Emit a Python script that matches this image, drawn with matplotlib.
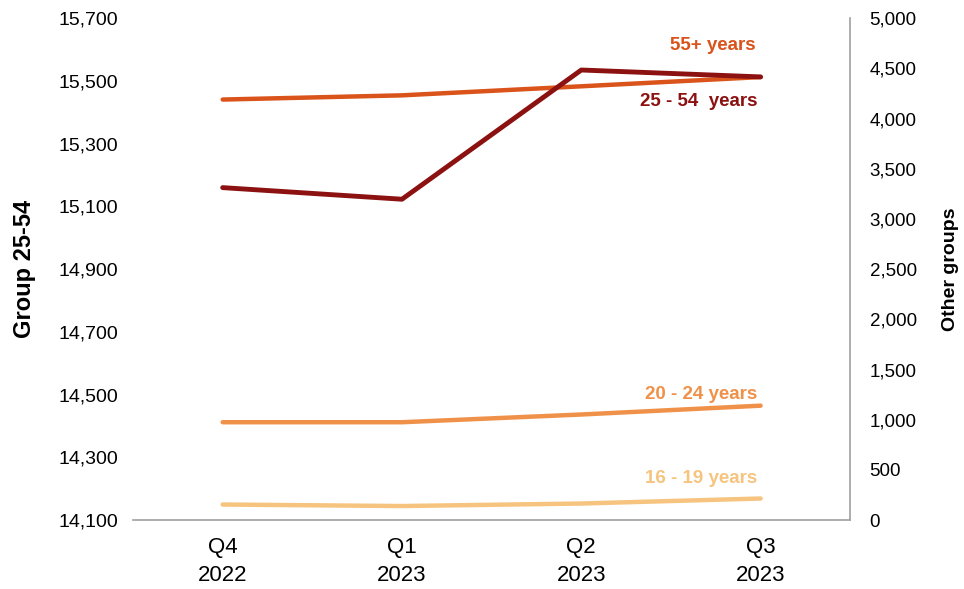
import matplotlib
# 使用非交互式后端 Agg
matplotlib.use('Agg')
import matplotlib.pyplot as plt
from matplotlib.ticker import FuncFormatter

plt.rcParams['font.family'] = ['Liberation Sans', 'DejaVu Sans']

# 数据：季度 & 各年龄组
quarters = ['Q4\n2022', 'Q1\n2023', 'Q2\n2023', 'Q3\n2023']
group_25_54 = [15160, 15123, 15535, 15513]   # 左轴
group_55_plus = [4190, 4232, 4322, 4414]     # 右轴
group_20_24 = [975, 975, 1052, 1140]
group_16_19 = [155, 140, 165, 215]

left_ticks = [14100, 14300, 14500, 14700, 14900, 15100, 15300, 15500, 15700]
right_ticks = [0, 500, 1000, 1500, 2000, 2500, 3000, 3500, 4000, 4500, 5000]

c_25_54 = '#8C1111'
c_55 = '#D9531A'
c_20_24 = '#F0914A'
c_16_19 = '#F6C47F'

fig = plt.figure(figsize=(9.64, 5.89), dpi=100)
ax = fig.add_axes([0.138, 0.117, 0.744, 0.852])
ax2 = ax.twinx()

x = list(range(len(quarters)))

# 右轴：其他年龄组
ax2.plot(x, group_16_19, color=c_16_19, lw=3.2, solid_capstyle='round')
ax2.plot(x, group_20_24, color=c_20_24, lw=3.2, solid_capstyle='round')
ax2.plot(x, group_55_plus, color=c_55, lw=3.2, solid_capstyle='round')
# 左轴：25-54 岁组（画在最上层）
ax.set_zorder(ax2.get_zorder() + 1)
ax.patch.set_visible(False)
ax.plot(x, group_25_54, color=c_25_54, lw=3.5, solid_capstyle='round')

ax.set_xlim(-0.5, 3.5)
ax.set_ylim(14100, 15700)
ax2.set_ylim(0, 5000)
ax.set_yticks(left_ticks)
ax2.set_yticks(right_ticks)
fmt = FuncFormatter(lambda v, p: f'{int(v):,}')
ax.yaxis.set_major_formatter(fmt)
ax2.yaxis.set_major_formatter(fmt)
ax.set_xticks(x)
ax.set_xticklabels(quarters, fontsize=16, linespacing=1.45)

ax.tick_params(axis='y', length=0, labelsize=14, pad=11)
ax2.tick_params(axis='y', length=0, labelsize=13.5, pad=14)
ax.tick_params(axis='x', length=0, pad=12)

# 坐标轴边框：只保留底部和右侧
for a in (ax, ax2):
    for s in a.spines.values():
        s.set_visible(False)
ax.spines['bottom'].set_visible(True)
ax.spines['bottom'].set_color('#A0A0A0')
ax.spines['bottom'].set_linewidth(1.2)
ax2.spines['right'].set_visible(True)
ax2.spines['right'].set_color('#A0A0A0')
ax2.spines['right'].set_linewidth(1.2)

ax.set_ylabel('Group 25-54', fontsize=17, fontweight='bold', labelpad=16)
ax2.set_ylabel('Other groups', fontsize=14, fontweight='bold', labelpad=18)

# 系列标签
ax2.text(2.97, 4730, '55+ years', color=c_55, fontsize=13.5, fontweight='bold',
         ha='right', va='center')
ax.text(2.98, 15435, '25 - 54  years', color=c_25_54, fontsize=13.5, fontweight='bold',
        ha='right', va='center')
ax2.text(2.98, 1255, '20 - 24 years', color=c_20_24, fontsize=13.5, fontweight='bold',
         ha='right', va='center')
ax2.text(2.98, 418, '16 - 19 years', color=c_16_19, fontsize=13.5, fontweight='bold',
         ha='right', va='center')

plt.savefig('out.png', dpi=100)
plt.close()
